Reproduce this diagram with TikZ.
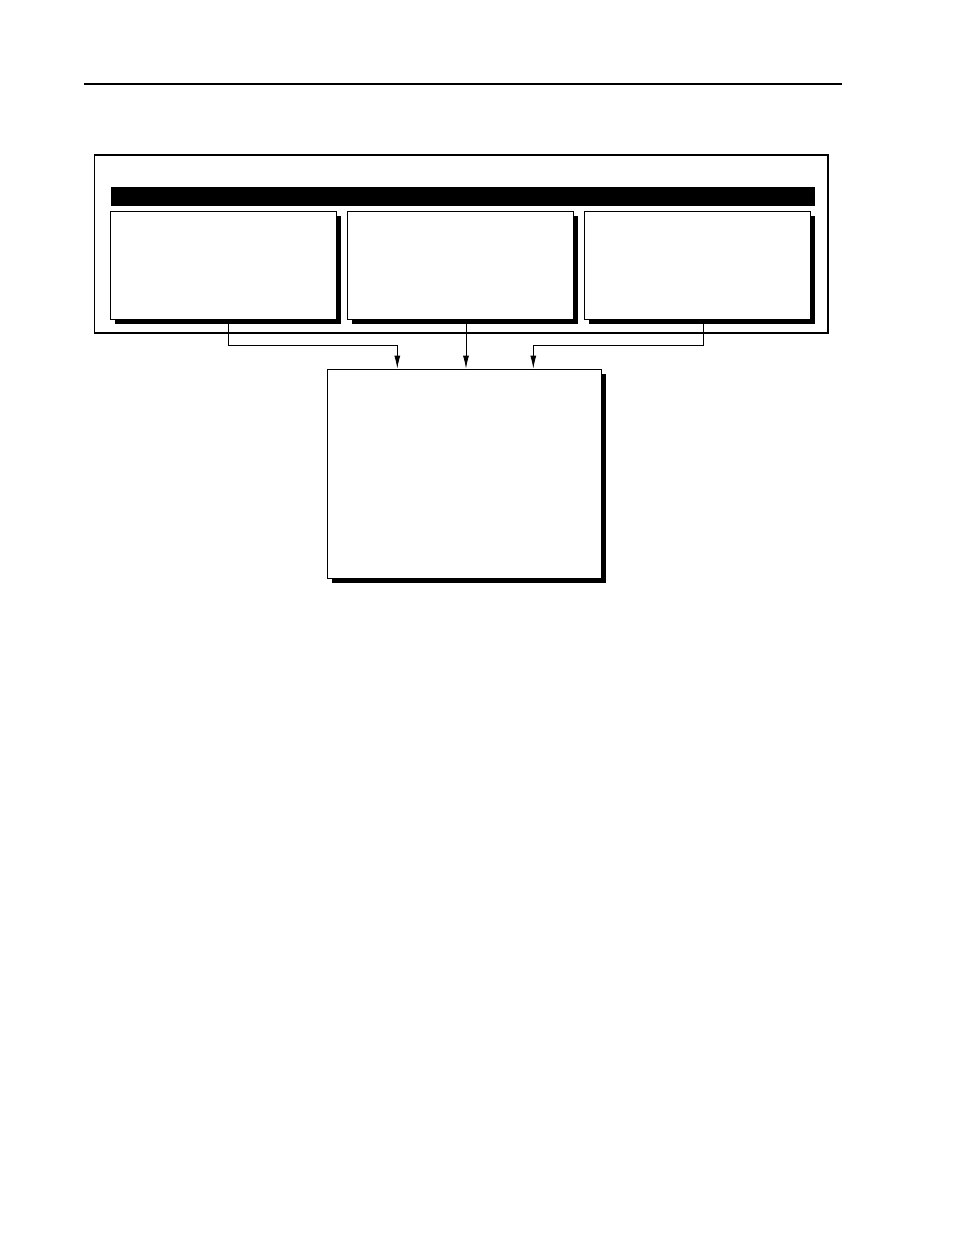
\documentclass[tikz,border=0pt]{standalone}
\usepackage{tikz}
\usetikzlibrary{shadows}
\usetikzlibrary{arrows.meta}

\begin{document}
\begin{tikzpicture}[x=1pt,y=-1pt,
    panel/.style={rectangle,draw,fill=white,line width=0.9pt,inner sep=0pt,
        minimum width=226pt,minimum height=108pt,
        drop shadow={shadow xshift=4.5pt,shadow yshift=-4.5pt,fill=black,opacity=1}},
    feed/.style={line width=0.8pt,-{Latex[length=13pt,width=6pt]}}]

            \useasboundingbox (0,0) rectangle (954,1235);
            %\draw [help lines] (0,0) grid[step=50] (954,1235);

            \draw[line width=2pt] (84,83.7) -- (842,83.7);

            \path   (461.1,244) node (frame) [rectangle,draw,line width=1.8pt,minimum width=733.2pt,minimum height=178pt] {}
                    (462.85,196.35) node (bar) [rectangle,fill=black,inner sep=0pt,minimum width=704.3pt,minimum height=18.7pt] {}
                    (223.3,265.2) node (src1) [panel] {}
                    (460.3,265.2) node (src2) [panel] {}
                    (697.5,265.2) node (src3) [panel] {}
                    (464.5,473.7) node (sink) [panel,minimum width=274.4pt,minimum height=209.3pt] {};

            \draw[feed] ([xshift=5]src1.south) -- ++(0,26) -| ([xshift=-67.2]sink.north);
            \draw[feed] ([xshift=5.7]src2.south) -- ([xshift=5.7]src2.south |- sink.north);
            \draw[feed] ([xshift=5.5]src3.south) -- ++(0,26) -| ([xshift=68.8]sink.north);
        \end{tikzpicture}
\end{document}
